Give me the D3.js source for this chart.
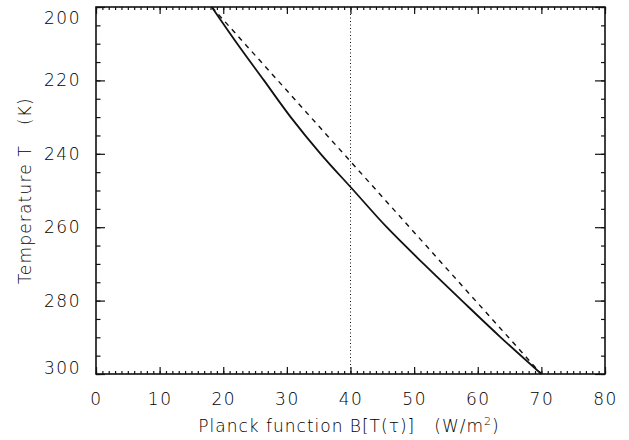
<!DOCTYPE html>
<html>
<head>
<meta charset="utf-8">
<script src="https://cdn.jsdelivr.net/npm/d3@7"></script>
<style>
  body { margin: 0; background: #fff; }
  text { font-family: "DejaVu Sans", sans-serif; font-weight: 200; fill: #000; }
  .tick text { font-size: 17px; letter-spacing: 1.5px; }
  .domain { stroke: none; }
</style>
</head>
<body>
<svg id="chart" width="629" height="440"></svg>
<script>
// Data
const temperature = [200, 210, 220, 230, 240, 250, 260, 270, 280, 290, 300];
const planck = [18.2, 22.2, 26.4, 30.6, 35.3, 40.5, 45.7, 51.5, 57.5, 63.6, 70.0];
// straight line between end points
const linearB = [18.2, 70.0];
const linearT = [200, 300];
const verticalB = 40;

const xTicks = [0, 10, 20, 30, 40, 50, 60, 70, 80];
const yTicks = [200, 220, 240, 260, 280, 300];

// Dimensions
const margin = { left: 96, right: 24, top: 7, bottom: 66 };
const width = 629 - margin.left - margin.right;
const height = 440 - margin.top - margin.bottom;

const svg = d3.select('#chart');
const g = svg.append('g')
    .attr('transform', 'translate(' + margin.left + ',' + margin.top + ')');

const x = d3.scaleLinear().domain([0, 80]).range([0, width]);
const y = d3.scaleLinear().domain([200, 300]).range([0, height]);

// minor ticks
const xMinor = d3.range(0, 81, 1);
const yMinor = d3.range(200, 301, 5);

// Bottom axis
g.append('g')
    .attr('transform', 'translate(0,' + height + ')')
    .call(d3.axisBottom(x).tickValues(xMinor).tickSize(-3).tickFormat(''));
g.append('g')
    .attr('transform', 'translate(0,' + height + ')')
    .call(d3.axisBottom(x).tickValues(xTicks).tickSize(-7).tickPadding(19).tickFormat(d3.format('d')));

// Top axis
g.append('g')
    .call(d3.axisTop(x).tickValues(xMinor).tickSize(-3).tickFormat(''));
g.append('g')
    .call(d3.axisTop(x).tickValues(xTicks).tickSize(-7).tickFormat(''));

// Left axis
g.append('g')
    .call(d3.axisLeft(y).tickValues(yMinor).tickSize(-4.5).tickFormat(''));
const yAxis = g.append('g')
    .call(d3.axisLeft(y).tickValues(yTicks).tickSize(-9).tickPadding(15).tickFormat(d3.format('d')));

// end labels stay inside the plot's height
yAxis.selectAll('.tick text')
    .attr('dy', d => d === 200 ? '0.95em' : (d === 300 ? '-0.05em' : '0.32em'));

// Right axis
g.append('g')
    .attr('transform', 'translate(' + width + ',0)')
    .call(d3.axisRight(y).tickValues(yMinor).tickSize(-4).tickFormat(''));
g.append('g')
    .attr('transform', 'translate(' + width + ',0)')
    .call(d3.axisRight(y).tickValues(yTicks).tickSize(-10).tickFormat(''));

g.selectAll('.tick line').attr('stroke', '#111').attr('stroke-width', 1.2);

// Frame
g.append('rect')
    .attr('width', width)
    .attr('height', height)
    .attr('fill', 'none')
    .attr('stroke', '#111')
    .attr('stroke-width', 1.6);

// Vertical dotted line
g.append('line')
    .attr('x1', x(verticalB)).attr('x2', x(verticalB))
    .attr('y1', y(200)).attr('y2', y(300))
    .attr('stroke', '#111')
    .attr('stroke-width', 1)
    .attr('stroke-dasharray', '1,2.5');

// Dashed straight line
g.append('path')
    .datum(d3.zip(linearB, linearT))
    .attr('fill', 'none')
    .attr('stroke', '#111')
    .attr('stroke-width', 1.4)
    .attr('stroke-dasharray', '5,5')
    .attr('d', d3.line().x(d => x(d[0])).y(d => y(d[1])));

// Planck curve
g.append('path')
    .datum(d3.zip(planck, temperature))
    .attr('fill', 'none')
    .attr('stroke', '#111')
    .attr('stroke-width', 1.8)
    .attr('d', d3.line().x(d => x(d[0])).y(d => y(d[1])).curve(d3.curveMonotoneY));

// Axis titles
svg.append('text')
    .attr('x', 349)
    .attr('y', 432)
    .attr('text-anchor', 'middle')
    .style('font-size', '17px')
    .style('letter-spacing', '1px')
    .html('Planck function B[T(τ)]\u00a0\u00a0\u00a0(W/m<tspan dy="-7" font-size="11">2</tspan><tspan dy="7">)</tspan>');

svg.append('text')
    .attr('transform', 'translate(31,' + (margin.top + height / 2) + ') rotate(-90)')
    .attr('text-anchor', 'middle')
    .style('font-size', '17px')
    .style('letter-spacing', '1.2px')
    .text('Temperature T\u00a0\u00a0\u00a0(K)');
</script>
</body>
</html>
